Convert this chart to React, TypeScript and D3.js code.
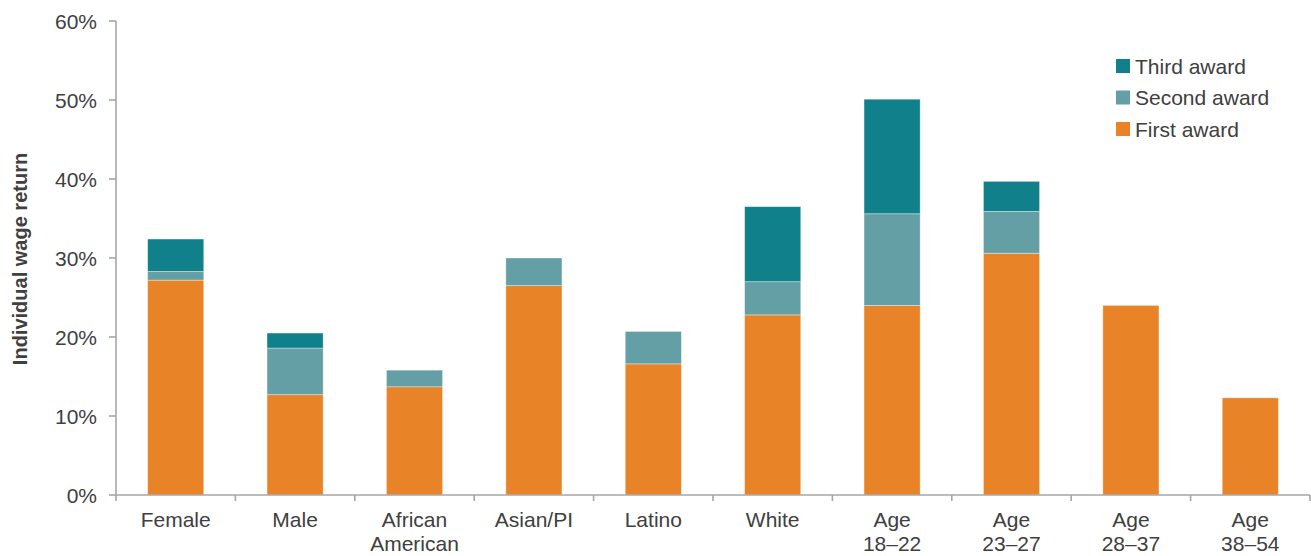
import React from "react";
import * as d3 from "d3";

const categories: string[][] = [
  ["Female"],
  ["Male"],
  ["African", "American"],
  ["Asian/PI"],
  ["Latino"],
  ["White"],
  ["Age", "18–22"],
  ["Age", "23–27"],
  ["Age", "28–37"],
  ["Age", "38–54"],
];

// Return added by each award, stacked on top of the previous one
const firstAward = [27.2, 12.7, 13.7, 26.5, 16.6, 22.8, 24.0, 30.6, 24.0, 12.3];
const secondAward = [1.1, 5.9, 2.1, 3.5, 4.1, 4.2, 11.6, 5.3, 0, 0];
const thirdAward = [4.1, 1.9, 0, 0, 0, 9.5, 14.5, 3.8, 0, 0];

const yTicks = [0, 10, 20, 30, 40, 50, 60];

const seriesNames = ["First award", "Second award", "Third award"];
const seriesColors = ["#E88427", "#639FA5", "#10818A"];

const W = 1311;
const H = 556;
const margin = { left: 116, right: 1, top: 21, bottom: 61 };
const FONT = "'Liberation Sans', Arial, sans-serif";
const TEXT = "#404040";
const AXIS = "#A6A6A6";
const FS = 21;

export default function App() {
  const x = d3
    .scaleBand<number>()
    .domain(d3.range(categories.length))
    .range([margin.left, W - margin.right])
    .paddingInner(0.53)
    .paddingOuter(0.265);
  const y = d3.scaleLinear().domain([0, 60]).range([H - margin.bottom, margin.top]);

  const rows = categories.map((_, i) => ({
    i,
    first: firstAward[i],
    second: secondAward[i],
    third: thirdAward[i],
  }));
  const stack = d3.stack<any>().keys(["first", "second", "third"]);
  const layers = stack(rows);

  const step = (W - margin.right - margin.left) / categories.length;
  const y0 = y(0);

  return (
    <svg
      width={W}
      height={H}
      style={{ position: "absolute", left: 0, top: 0, background: "#fff" }}
      fontFamily={FONT}
    >
      {/* bars */}
      {layers.map((layer, k) => (
        <g key={k} fill={seriesColors[k]}>
          {layer.map((d, i) =>
            d[1] - d[0] > 0 ? (
              <rect
                key={i}
                x={x(i)!}
                width={x.bandwidth()}
                y={y(d[1])}
                height={y(d[0]) - y(d[1])}
                stroke="#ffffff"
                strokeOpacity={0.45}
                strokeWidth={0.8}
              />
            ) : null
          )}
        </g>
      ))}

      {/* y axis */}
      <line x1={margin.left} x2={margin.left} y1={y(60)} y2={y0} stroke={AXIS} strokeWidth={1.6} />
      {yTicks.map((t) => (
        <g key={t}>
          <line x1={margin.left - 7} x2={margin.left} y1={y(t)} y2={y(t)} stroke={AXIS} strokeWidth={1.6} />
          <text x={97} y={y(t)} dy="0.36em" textAnchor="end" fontSize={FS} fill={TEXT}>
            {t}%
          </text>
        </g>
      ))}

      {/* x axis */}
      <line x1={margin.left} x2={W - margin.right} y1={y0} y2={y0} stroke={AXIS} strokeWidth={1.6} />
      {d3.range(categories.length + 1).map((i) => (
        <line
          key={i}
          x1={margin.left + i * step}
          x2={margin.left + i * step}
          y1={y0}
          y2={y0 + 6}
          stroke={AXIS}
          strokeWidth={1.6}
        />
      ))}
      {categories.map((lines, i) => (
        <text
          key={i}
          x={x(i)! + x.bandwidth() / 2}
          y={527}
          textAnchor="middle"
          fontSize={FS}
          fill={TEXT}
        >
          {lines.map((l, j) => (
            <tspan key={j} x={x(i)! + x.bandwidth() / 2} dy={j === 0 ? 0 : 24}>
              {l}
            </tspan>
          ))}
        </text>
      ))}

      {/* y axis title */}
      <text
        transform={`translate(27, ${(y(60) + y0) / 2 + 1}) rotate(-90)`}
        textAnchor="middle"
        fontSize={20}
        fontWeight="bold"
        fill={TEXT}
      >
        Individual wage return
      </text>

      {/* legend */}
      {[2, 1, 0].map((k, r) => (
        <g key={k} transform={`translate(1116, ${59 + r * 31.5})`}>
          <rect width={14} height={14} fill={seriesColors[k]} />
          <text x={19} y={7} dy="0.36em" fontSize={FS} fill={TEXT}>
            {seriesNames[k]}
          </text>
        </g>
      ))}
    </svg>
  );
}
